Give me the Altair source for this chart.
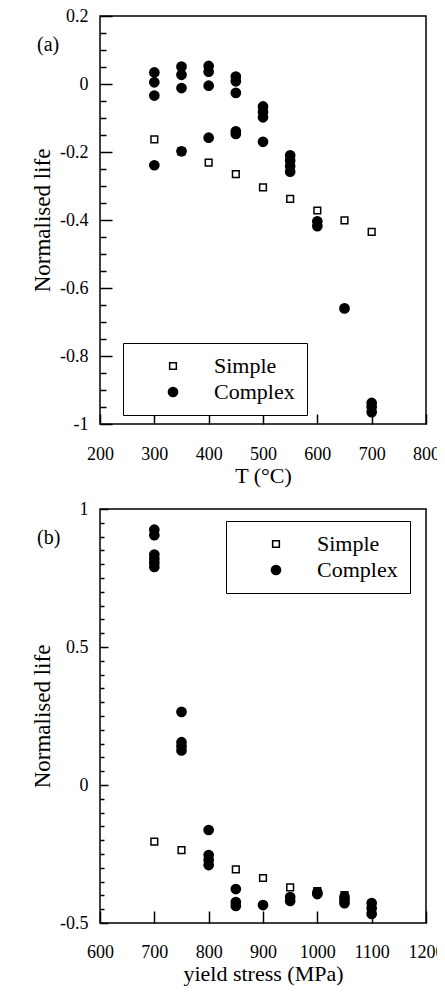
import altair as alt
import pandas as pd

# ---------------- Panel (a): life vs temperature ----------------
a_T_simple = [300, 350, 400, 450, 500, 550, 600, 650, 700]
a_life_simple = [-0.163, -0.198, -0.231, -0.265, -0.304, -0.338, -0.372, -0.401, -0.435]

a_T_complex = [300, 300, 300, 300,
               350, 350, 350, 350,
               400, 400, 400, 400,
               450, 450, 450, 450, 450,
               500, 500, 500, 500,
               550, 550, 550, 550,
               600, 600,
               650,
               700, 700, 700]
a_life_complex = [0.034, 0.005, -0.034, -0.239,
                  0.051, 0.027, -0.012, -0.198,
                  0.053, 0.036, -0.005, -0.158,
                  0.022, 0.008, -0.026, -0.139, -0.147,
                  -0.066, -0.082, -0.098, -0.170,
                  -0.210, -0.225, -0.242, -0.258,
                  -0.404, -0.418,
                  -0.660,
                  -0.938, -0.950, -0.965]

a_x_labels = [200, 300, 400, 500, 600, 700, 800]
a_y_labels = [0.2, 0, -0.2, -0.4, -0.6, -0.8, -1]
a_y_minor = [round(0.2 - 0.05 * i, 2) for i in range(25) if i % 4 != 0]

# ---------------- Panel (b): life vs yield stress ----------------
b_ys_simple = [700, 750, 800, 850, 900, 950, 1000, 1050, 1100]
b_life_simple = [-0.205, -0.236, -0.270, -0.306, -0.337, -0.371, -0.384, -0.399, -0.447]

b_ys_complex = [700, 700, 700, 700, 700, 700,
                750, 750, 750, 750,
                800, 800, 800, 800,
                850, 850, 850,
                900,
                950, 950,
                1000, 1000,
                1050, 1050, 1050,
                1100, 1100, 1100]
b_life_complex = [0.925, 0.905, 0.835, 0.82, 0.805, 0.79,
                  0.265, 0.155, 0.14, 0.125,
                  -0.163, -0.254, -0.272, -0.29,
                  -0.377, -0.424, -0.438,
                  -0.435,
                  -0.406, -0.42,
                  -0.39, -0.395,
                  -0.405, -0.415, -0.428,
                  -0.428, -0.447, -0.467]

b_x_labels = [600, 700, 800, 900, 1000, 1100, 1200]
b_y_labels = [1, 0.5, 0, -0.5]
b_y_minor = [round(1 - 0.05 * i, 2) for i in range(31) if i % 10 != 0]

SERIES = ["Simple", "Complex"]
FONT = "Liberation Serif"


def make_df(xs_s, ys_s, xs_c, ys_c):
    return pd.DataFrame({
        "x": list(xs_s) + list(xs_c),
        "life": list(ys_s) + list(ys_c),
        "series": ["Simple"] * len(xs_s) + ["Complex"] * len(xs_c),
    })


def panel(df, xdomain, xlabels, ydomain, ylabels, yminor, xtitle,
          tag, lx, ly, w, h, maj_len, min_len, xt_len, xlab_pad, xtitle_pad):
    xscale = alt.Scale(domain=xdomain, nice=False, zero=False)
    yscale = alt.Scale(domain=ydomain, nice=False, zero=False)
    # inward ticks: axis line pulled inside by the tick length, ticks point out to the frame
    xaxis = alt.Axis(values=xlabels, title=xtitle, domain=False, grid=False,
                     offset=-xt_len, tickSize=xt_len, tickWidth=1.5, tickColor="black",
                     labelPadding=xlab_pad, titlePadding=xtitle_pad,
                     labelFont=FONT, titleFont=FONT,
                     labelExpr="datum.value + ''", labelFlush=False)
    yaxis = alt.Axis(values=ylabels, title="Normalised life", domain=False, grid=False,
                     orient="left", offset=-maj_len, tickSize=maj_len, tickWidth=1.5,
                     tickColor="black", labelPadding=12, titlePadding=5,
                     labelFont=FONT, titleFont=FONT,
                     labelExpr="datum.value + ''", labelFlush=False)
    yaxis_minor = alt.Axis(values=yminor, title=None, labels=False, domain=False,
                           grid=False, orient="left", offset=-min_len, tickSize=min_len,
                           tickWidth=1.5, tickColor="black")
    legend = alt.Legend(title=None, orient="none", legendX=lx, legendY=ly,
                        padding=12, rowPadding=4, labelOffset=30,
                        symbolOffset=27, strokeColor="black",
                        fillColor="white", labelFontSize=22, labelFont=FONT,
                        labelColor="black", symbolStrokeColor="black",
                        symbolStrokeWidth=1.5)

    minor = alt.Chart(pd.DataFrame({"v": yminor})).mark_point(opacity=0).encode(
        y=alt.Y("v:Q", scale=yscale, axis=yaxis_minor))
    pts = alt.Chart(df).mark_point(filled=True, opacity=1, strokeWidth=1.5).encode(
        x=alt.X("x:Q", scale=xscale, axis=xaxis),
        y=alt.Y("life:Q", scale=yscale, axis=yaxis),
        shape=alt.Shape("series:N", scale=alt.Scale(domain=SERIES, range=["square", "circle"]), legend=legend),
        fill=alt.Fill("series:N", scale=alt.Scale(domain=SERIES, range=["white", "black"]), legend=legend),
        stroke=alt.Stroke("series:N", scale=alt.Scale(domain=SERIES, range=["black", "black"]), legend=legend),
        size=alt.Size("series:N", scale=alt.Scale(domain=SERIES, range=[45, 85]), legend=legend),
    )
    return alt.layer(pts, minor).resolve_axis(y="independent").properties(
        width=w, height=h,
        title=alt.TitleParams(tag, anchor="start", frame="group", dx=-63, dy=52,
                              fontSize=20, fontWeight="normal", font=FONT,
                              color="black"))


top = panel(make_df(a_T_simple, a_life_simple, a_T_complex, a_life_complex),
            [200, 800], a_x_labels, [-1, 0.2], a_y_labels, a_y_minor,
            "T (°C)", "(a)", 23, 327, 326, 408, 12, 6, 10, 21, 2)
bottom = panel(make_df(b_ys_simple, b_life_simple, b_ys_complex, b_life_complex),
               [600, 1200], b_x_labels, [-0.5, 1], b_y_labels, b_y_minor,
               "yield stress (MPa)", "(b)", 126, 12, 326, 414, 8, 4, 12, 20, 2)

chart = alt.vconcat(top, bottom, spacing=12).resolve_scale(
    shape="independent", fill="independent", stroke="independent", size="independent"
).resolve_legend(
    shape="independent", fill="independent", stroke="independent", size="independent"
).properties(
    padding={"left": 22, "top": -2, "right": -8.5, "bottom": 4}
).configure_view(stroke="black", strokeWidth=1.5).configure_axis(
    labelFont=FONT, labelFontSize=18, labelColor="black",
    titleFont=FONT, titleFontSize=22, titleFontWeight="normal", titleColor="black"
).configure_axisY(titleFontSize=23)

chart.save("out.html", embed_options={"renderer": "svg", "actions": False})
